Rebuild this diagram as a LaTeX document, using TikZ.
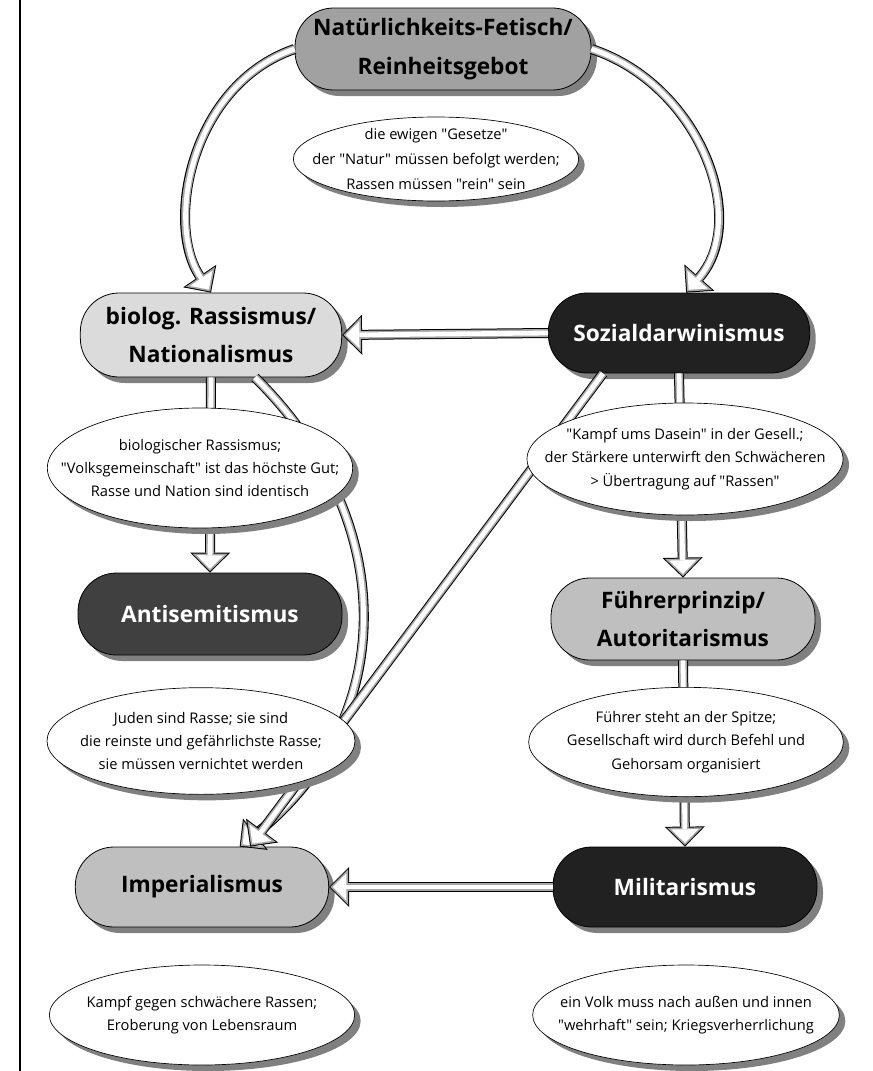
\documentclass[tikz,border=0pt]{standalone}
\usepackage{fontspec}
\setmainfont{Open Sans}[Ligatures=TeXOff]
\usetikzlibrary{arrows.meta,shapes.geometric,shadows}

\tikzset{
  capsule/.style={draw=black, line width=0.6pt, rounded corners=29pt, inner sep=0pt,
    align=center, font=\bfseries\fontsize{17}{29}\selectfont,
    drop shadow={shadow xshift=4.5pt, shadow yshift=-4.5pt, fill=black!50, opacity=1}},
  note/.style={ellipse, draw=black, line width=0.5pt, fill=white,
    inner xsep=-40pt, inner ysep=-20pt,
    align=center, font=\fontsize{11}{17.5}\selectfont,
    drop shadow={shadow xshift=4.5pt, shadow yshift=-4.5pt, fill=black!50, opacity=1}},
  flow/.style={draw=black, line width=7.5pt,
    -{Triangle[length=15pt,width=30pt,line width=0pt]},
    postaction={draw=black!35, line width=6pt, shorten >=1.06pt,
      -{Triangle[length=13.2pt,width=26.4pt,line width=0pt]}},
    postaction={draw=white, line width=3.6pt, shorten >=2.8pt,
      -{Triangle[length=10.2pt,width=20.4pt,line width=0pt]}}},
}

\begin{document}
\begin{tikzpicture}[x=0.75pt,y=0.75pt,yscale=-1,xscale=1]
\useasboundingbox (0,0) rectangle (872,1071);

% margin rule
\draw[line width=1pt] (20,0) -- (20,1071);

% Boxes
\node[capsule, fill=black!37, minimum width=222pt, minimum height=61.5pt] (nat) at (443,49) {Natürlichkeits-Fetisch/\\Reinheitsgebot};
\node[capsule, fill=black!14, minimum width=196pt, minimum height=63pt] (bio) at (211,335) {biolog. Rassismus/\\Nationalismus};
\node[capsule, fill=black!87, text=white, minimum width=196pt, minimum height=60pt] (soz) at (679,333) {Sozialdarwinismus};
\node[capsule, fill=black!75, text=white, minimum width=198pt, minimum height=61.5pt] (anti) at (210,614) {Antisemitismus};
\node[capsule, fill=black!25, minimum width=198pt, minimum height=61.5pt] (fue) at (683,619) {Führerprinzip/\\Autoritarismus};
\node[capsule, fill=black!25, minimum width=190pt, minimum height=60pt] (imp) at (202,887) {Imperialismus};
\node[capsule, fill=black!87, text=white, minimum width=198pt, minimum height=60pt] (mil) at (685,887) {Militarismus};

% Arrows
\draw[flow] (nat.west) .. controls (190,85) and (165,225) .. (bio.north);
\draw[flow] (nat.east) .. controls (700,85) and (750,220) .. (soz.80);
\draw[flow] (soz.west) -- (bio.east);
\draw[flow] (bio.south) -- (anti.north);
\draw[flow] (soz.south) -- (fue.north);
\draw[flow] (fue.south) -- (mil.north);
\draw[flow] (mil.west) -- (imp.east);
\draw[flow] (bio.-44) .. controls (400,520) and (400,720) .. (imp.47);
\draw[flow] (soz.208) -- (imp.40);

% Notes
\node[note, font=\fontsize{11}{18.5}\selectfont, minimum width=214pt, minimum height=63pt] (law) at (436,159) {die ewigen "Gesetze"\\der "Natur" müssen befolgt werden;\\Rassen müssen "rein" sein};
\node[note, minimum width=229pt, minimum height=90pt] (race) at (200,468) {biologischer Rassismus;\\"Volksgemeinschaft" ist das höchste Gut;\\Rasse und Nation sind identisch};
\node[note, minimum width=237pt, minimum height=84pt] (fight) at (685,459) {"Kampf ums Dasein" in der Gesell.;\\der Stärkere unterwirft den Schwächeren\\> Übertragung auf "Rassen"};
\node[note, minimum width=231pt, minimum height=80pt] (jews) at (201,741) {Juden sind Rasse; sie sind\\die reinste und gefährlichste Rasse;\\sie müssen vernichtet werden};
\node[note, minimum width=236pt, minimum height=82pt] (lead) at (686,742) {Führer steht an der Spitze;\\Gesellschaft wird durch Befehl und\\Gehorsam organisiert};
\node[note, minimum width=229pt, minimum height=75pt] (space) at (202,1015) {Kampf gegen schwächere Rassen;\\Eroberung von Lebensraum};
\node[note, minimum width=230pt, minimum height=75pt] (arms) at (686,1015) {ein Volk muss nach außen und innen\\"wehrhaft" sein; Kriegsverherrlichung};

\end{tikzpicture}
\end{document}
